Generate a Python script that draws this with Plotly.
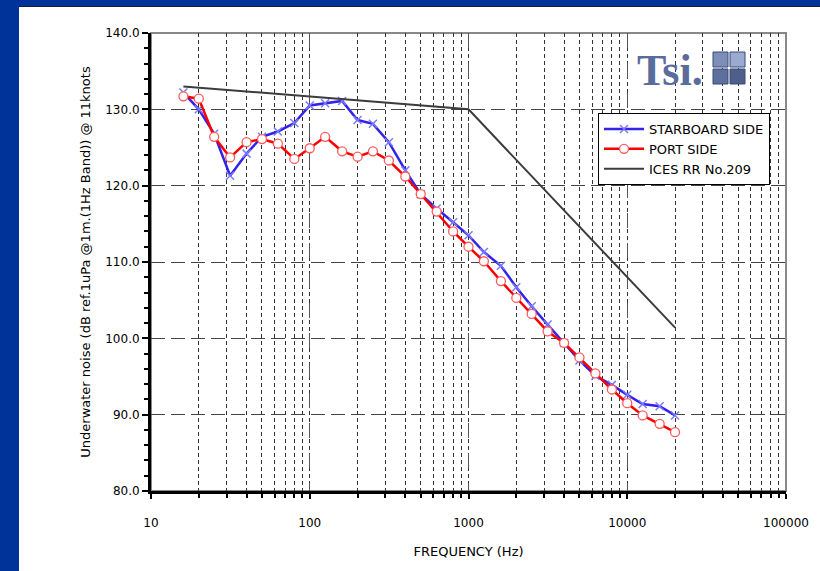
import plotly.graph_objects as go

freq = [16, 20, 25, 31.5, 40, 50, 63, 80, 100, 125, 160, 200, 250, 315, 400, 500, 630, 800,
        1000, 1250, 1600, 2000, 2500, 3150, 4000, 5000, 6300, 8000, 10000, 12500, 16000, 20000]

starboard = [132.2, 130.0, 126.8, 121.3, 124.2, 126.4, 127.1, 128.2, 130.5, 130.8, 131.1, 128.6,
             128.1, 125.7, 122.0, 118.9, 117.0, 115.2, 113.5, 111.3, 109.5, 106.7, 104.2, 101.8,
             99.4, 97.1, 95.1, 93.9, 92.6, 91.4, 91.1, 89.9]

port = [131.7, 131.4, 126.4, 123.7, 125.7, 126.1, 125.5, 123.5, 124.9, 126.4, 124.5, 123.8,
        124.5, 123.3, 121.2, 118.9, 116.6, 114.0, 112.0, 110.1, 107.5, 105.3, 103.2, 100.9,
        99.4, 97.5, 95.4, 93.3, 91.5, 89.9, 88.8, 87.7]

ices_freq = [16, 1000, 20000]
ices_level = [133.0, 130.0, 101.4]

x_tickvals = [10, 100, 1000, 10000, 100000]
x_ticktext = ["10", "100", "1000", "10000", "100000"]
y_tickvals = [80, 90, 100, 110, 120, 130, 140]

FONT = "DejaVu Sans"

fig = go.Figure()
fig.add_trace(go.Scatter(
    x=freq, y=starboard, name="STARBOARD SIDE", mode="lines+markers",
    line=dict(color="#3322ee", width=2.5),
    marker=dict(symbol="x-thin", size=8, line=dict(color="#7b7bff", width=1.5), color="#7b7bff")))
fig.add_trace(go.Scatter(
    x=freq, y=port, name="PORT SIDE", mode="lines+markers",
    line=dict(color="#ff0000", width=2.5),
    marker=dict(symbol="circle", size=9, color="white", line=dict(color="#ff5a5a", width=1.3))))
fig.add_trace(go.Scatter(
    x=ices_freq, y=ices_level, name="ICES RR No.209", mode="lines",
    line=dict(color="#3c3c3c", width=2)))

L, R, T, B = 151, 34, 33, 80
W, H = 820, 571
pw, ph = W - L - R, H - T - B

def px_x(px):
    return (px - L) / pw

def px_y(py):
    return (H - B - py) / ph

shapes = [
    dict(type="rect", xref="paper", yref="paper", x0=0, x1=1, y0=0, y1=1,
         line=dict(color="#888888", width=2), layer="below"),
    dict(type="rect", xref="paper", yref="paper", x0=px_x(0), x1=px_x(19), y0=px_y(H), y1=px_y(0),
         fillcolor="#003399", line=dict(width=0), layer="above"),
    dict(type="rect", xref="paper", yref="paper", x0=px_x(0), x1=px_x(W), y0=px_y(6), y1=px_y(0),
         fillcolor="#003399", line=dict(width=0), layer="above"),
    dict(type="line", xref="paper", yref="paper", x0=px_x(19), x1=px_x(W), y0=px_y(6.5), y1=px_y(6.5),
         line=dict(color="#1a1a40", width=1.2), layer="above"),
]

cube_cols = ["#7d8fb8", "#5d6f9c", "#9aaad0", "#4e5f8c"]
cx, cy, s = 713, 52, 15
k = 0
for i in range(2):
    for j in range(2):
        shapes.append(dict(type="rect", xref="paper", yref="paper",
                           x0=px_x(cx + i * (s + 2)), x1=px_x(cx + i * (s + 2) + s),
                           y0=px_y(cy + j * (s + 2) + s), y1=px_y(cy + j * (s + 2)),
                           fillcolor=cube_cols[k], line=dict(color="#3a4a78", width=1), layer="above"))
        k += 1

annotations = [
    dict(text="<b>Tsi.</b>", xref="paper", yref="paper", x=px_x(670), y=px_y(70),
         showarrow=False, font=dict(family="Liberation Serif", size=44, color="#5a6c9c"),
         xanchor="center", yanchor="middle"),
]

fig.update_layout(
    width=W, height=H,
    margin=dict(l=L, r=R, t=T, b=B),
    paper_bgcolor="white", plot_bgcolor="white",
    font=dict(family=FONT, size=12, color="black"),
    showlegend=True,
    legend=dict(x=px_x(598), y=px_y(113), xanchor="left", yanchor="top",
                bgcolor="white", bordercolor="black", borderwidth=1,
                font=dict(family=FONT, size=13), tracegroupgap=2, itemwidth=40,
                entrywidth=150),
    shapes=shapes,
    annotations=annotations,
)

fig.update_xaxes(
    type="log", range=[1, 5],
    tickvals=x_tickvals, ticktext=x_ticktext,
    ticks="outside", ticklen=5, tickwidth=2, tickcolor="black",
    showline=True, linecolor="black", linewidth=3,
    showgrid=True, gridcolor="#555555", gridwidth=1, griddash="longdash",
    minor=dict(dtick="D1", ticks="outside", ticklen=4, tickwidth=2, tickcolor="black",
               showgrid=True, gridcolor="#333333", gridwidth=0.8, griddash="4px,3px"),
    ticklabelstandoff=14,
    title=dict(text="FREQUENCY (Hz)", font=dict(family=FONT, size=13), standoff=18),
    zeroline=False,
)
fig.update_yaxes(
    range=[80, 140], tickvals=y_tickvals, tickformat=".1f",
    ticks="outside", ticklen=6, tickwidth=2, tickcolor="black",
    showline=True, linecolor="black", linewidth=3,
    showgrid=True, gridcolor="#444444", gridwidth=1, griddash="14px,6px",
    minor=dict(dtick=2, ticks="outside", ticklen=4, tickwidth=2, tickcolor="black", showgrid=False),
    title=dict(text="Underwater noise (dB ref.1uPa @1m.(1Hz Band)) @ 11knots",
               font=dict(family=FONT, size=13), standoff=12),
    zeroline=False,
)

fig.write_html("out.html", config={"displayModeBar": False},
               post_script="document.body.style.margin='0';document.body.style.overflow='hidden';")
